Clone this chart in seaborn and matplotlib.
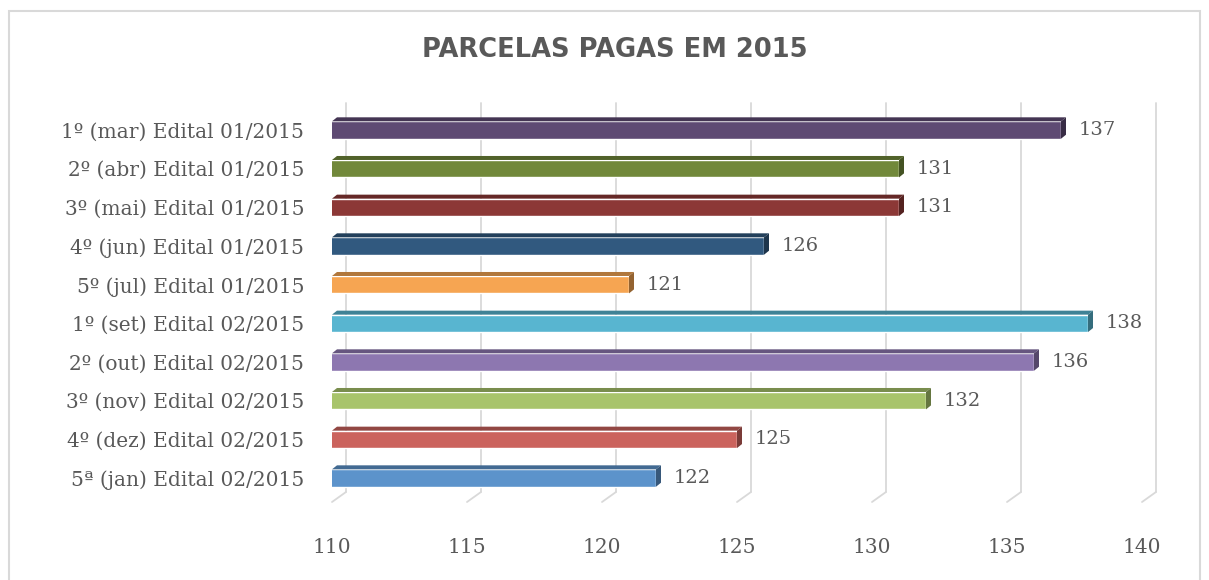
import matplotlib
matplotlib.use("Agg")
import matplotlib.pyplot as plt
from matplotlib.patches import Polygon, Rectangle
from matplotlib.lines import Line2D
import matplotlib.colors as mcolors
import seaborn as sns

categories = ['1º (mar) Edital 01/2015', '2º (abr) Edital 01/2015', '3º (mai) Edital 01/2015',
              '4º (jun) Edital 01/2015', '5º (jul) Edital 01/2015', '1º (set) Edital 02/2015',
              '2º (out) Edital 02/2015', '3º (nov) Edital 02/2015', '4º (dez) Edital 02/2015',
              '5ª (jan) Edital 02/2015']
values = [137, 131, 131, 126, 121, 138, 136, 132, 125, 122]
colors = ['#5E4A73', '#71883A', '#8C3836', '#31597F', '#F6A552',
          '#58B5D0', '#8D77B0', '#A8C46B', '#CB635D', '#5C93CB']
x_ticks = [110, 115, 120, 125, 130, 135, 140]

sns.set_style("white")
TEXT = '#595959'
SERIF = 'DejaVu Serif'

fig = plt.figure(figsize=(12.09, 5.80), dpi=100)
ax = fig.add_axes([332 / 1209, 78 / 580, 810 / 1209, 389 / 580])
ax.patch.set_visible(False)

sns.barplot(x=values, y=categories, hue=categories, palette=colors, legend=False,
            orient='h', width=0.45, ax=ax, saturation=1)
ax.set_xlim(110, 140)
ax.set_ylim(9.62, -0.44)
ax.set_xticks(x_ticks)
ax.set_xticklabels([str(t) for t in x_ticks], family=SERIF, fontsize=14.5, color=TEXT)
ax.set_yticks(range(len(categories)))
ax.set_yticklabels(categories, family=SERIF, fontsize=14.5, color=TEXT)
ax.tick_params(axis='x', length=0, pad=26)
ax.tick_params(axis='y', length=0, pad=20)
for s in ax.spines.values():
    s.set_visible(False)
ax.set_xlabel('')
ax.set_ylabel('')

fig.canvas.draw()
to_disp = ax.transData
to_data = ax.transData.inverted()

# back-plane gridlines with short slanted feet (3D look)
dxp, dyp = 14, 10
for t in x_ticks:
    bx, by = to_disp.transform((t, ax.get_ylim()[0]))
    _, ty = to_disp.transform((t, ax.get_ylim()[1]))
    fig.add_artist(Line2D([bx + dxp, bx + dxp], [by + dyp, ty + dyp], transform=None,
                          color='#D9D9D9', lw=1.3, zorder=0))
    fig.add_artist(Line2D([bx, bx + dxp], [by, by + dyp], transform=None,
                          color='#D9D9D9', lw=1.3, zorder=0))

# top and side faces of bars
d_x, d_y = 5, 4
for patch, c in zip(ax.patches, colors):
    x0 = max(patch.get_x(), 110)
    x1 = patch.get_x() + patch.get_width()
    y0 = patch.get_y()
    y1 = y0 + patch.get_height()
    (px0, ptop), (px1, pbot) = to_disp.transform([(x0, y0), (x1, y1)])
    dark = [v * 0.72 for v in mcolors.to_rgb(c)]
    darker = [v * 0.6 for v in mcolors.to_rgb(c)]
    top = [(px0, ptop), (px0 + d_x, ptop + d_y), (px1 + d_x, ptop + d_y), (px1, ptop)]
    side = [(px1, ptop), (px1 + d_x, ptop + d_y), (px1 + d_x, pbot + d_y), (px1, pbot)]
    ax.add_patch(Polygon(to_data.transform(top), closed=True, facecolor=dark, edgecolor='none', zorder=3))
    ax.add_patch(Polygon(to_data.transform(side), closed=True, facecolor=darker, edgecolor='none', zorder=3))

for cont in ax.containers:
    ax.bar_label(cont, padding=13, family=SERIF, fontsize=14, color=TEXT)

fig.text(615 / 1209, 1 - 50 / 580, 'PARCELAS PAGAS EM 2015', ha='center', va='center',
         fontsize=18.5, fontweight='bold', color=TEXT, family='DejaVu Sans')

fig.add_artist(Rectangle((9 / 1209, -0.01), 1191 / 1209, 1 - 11 / 580 + 0.01,
                         transform=fig.transFigure, fill=False, edgecolor='#D9D9D9', lw=1.5))

fig.savefig('out.png', dpi=100)
